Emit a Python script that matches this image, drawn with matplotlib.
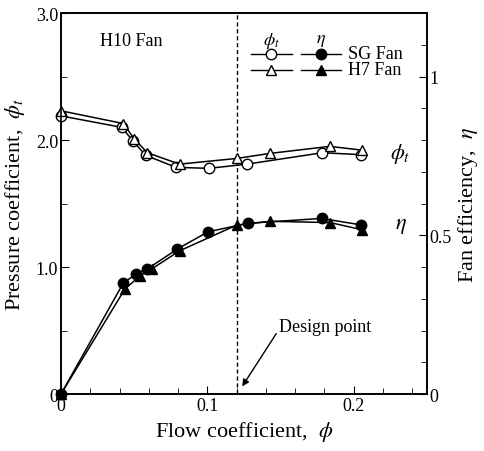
import matplotlib.pyplot as plt
from matplotlib.lines import Line2D
from matplotlib.ticker import MultipleLocator

plt.rcParams['font.family'] = ['Liberation Serif', 'DejaVu Serif']
plt.rcParams['mathtext.fontset'] = 'stix'

# pressure coefficient phi_t
sg_phi = [0, 0.0414, 0.0494, 0.0578, 0.0785, 0.101, 0.127, 0.1786, 0.2048]
sg_psi = [2.19, 2.10, 1.99, 1.88, 1.785, 1.777, 1.81, 1.90, 1.885]
h7_phi = [0, 0.0425, 0.050, 0.059, 0.081, 0.120, 0.143, 0.1836, 0.206]
h7_psi = [2.23, 2.13, 2.01, 1.90, 1.81, 1.855, 1.895, 1.95, 1.92]

# fan efficiency eta
sg_eta_phi = [0, 0.0425, 0.0512, 0.059, 0.0796, 0.1005, 0.128, 0.178, 0.2048]
sg_eta = [0, 0.349, 0.378, 0.394, 0.457, 0.511, 0.538, 0.553, 0.533]
h7_eta_phi = [0, 0.0437, 0.054, 0.062, 0.081, 0.120, 0.143, 0.184, 0.206]
h7_eta = [0, 0.331, 0.372, 0.394, 0.451, 0.532, 0.544, 0.540, 0.517]

design_phi = 0.12

fig = plt.figure(figsize=(4.84, 4.52), dpi=100)
ax = fig.add_axes([0.126, 0.126, 0.756, 0.843])
ax2 = ax.twinx()

ms = 7.5
ax.plot(sg_phi, sg_psi, 'k-', marker='o', mfc='white', mec='k', ms=ms, lw=1.1, clip_on=False, zorder=3)
ax.plot(h7_phi, h7_psi, 'k-', marker='^', mfc='white', mec='k', ms=ms, lw=1.1, clip_on=False, zorder=3)
ax2.plot(sg_eta_phi, sg_eta, 'k-', marker='o', mfc='k', mec='k', ms=ms, lw=1.1, clip_on=False, zorder=3)
ax2.plot(h7_eta_phi, h7_eta, 'k-', marker='^', mfc='k', mec='k', ms=ms, lw=1.1, clip_on=False, zorder=3)

ax.axvline(design_phi, color='k', ls=(0, (3, 2)), lw=1.0)

ax.set_xlim(0, 0.25)
ax.set_ylim(0, 3.0)
ax2.set_ylim(0, 1.2)

ax.set_xticks([0, 0.1, 0.2])
ax.set_xticklabels(['0', '0.1', '0.2'])
ax.xaxis.set_minor_locator(MultipleLocator(0.02))
ax.set_yticks([0, 1.0, 2.0, 3.0])
ax.set_yticklabels(['0', '1.0', '2.0', '3.0'])
ax.yaxis.set_minor_locator(MultipleLocator(0.5))
ax2.set_yticks([0, 0.5, 1.0])
ax2.set_yticklabels(['0', '0.5', '1'])
ax2.yaxis.set_minor_locator(MultipleLocator(0.1))

for a in (ax, ax2):
    a.tick_params(which='both', direction='in', labelsize=13, pad=2)
    a.tick_params(which='major', length=6)
    a.tick_params(which='minor', length=4)
    for s in a.spines.values():
        s.set_linewidth(1.2)

ax.set_xlabel(r'Flow coefficient,  $\phi$', fontsize=16, labelpad=4)
ax.set_ylabel(r'Pressure coefficient,  $\phi_t$', fontsize=16, labelpad=6)
ax2.set_ylabel(r'Fan efficiency,  $\eta$', fontsize=16, labelpad=3)

ax.text(0.048, 2.78, 'H10 Fan', fontsize=13, ha='center', va='center')
ax.text(0.232, 1.9, r'$\phi_t$', fontsize=16, ha='center', va='center')
ax2.text(0.232, 0.53, r'$\eta$', fontsize=16, ha='center', va='center')

ax.annotate('Design point', xy=(0.1238, 0.06), xytext=(0.149, 0.53),
            fontsize=13, ha='left', va='center',
            arrowprops=dict(arrowstyle='-|>', color='k', lw=1.0,
                            shrinkA=0, shrinkB=0, mutation_scale=10,
                            relpos=(0, 0.35)))

# legend drawn by hand
tr = ax.transAxes
ax.text(0.575, 0.93, r'$\phi_t$', fontsize=13, ha='center', va='center', transform=tr)
ax.text(0.71, 0.93, r'$\eta$', fontsize=13, ha='center', va='center', transform=tr)
for yy, mk in [(0.893, 'o'), (0.851, '^')]:
    ax.add_line(Line2D([0.52, 0.63], [yy, yy], color='k', lw=1.0, transform=tr))
    ax.add_line(Line2D([0.575], [yy], marker=mk, mfc='white', mec='k', ms=ms, ls='none', transform=tr))
    ax.add_line(Line2D([0.655, 0.765], [yy, yy], color='k', lw=1.0, transform=tr))
    ax.add_line(Line2D([0.71], [yy], marker=mk, mfc='k', mec='k', ms=ms, ls='none', transform=tr))
ax.text(0.785, 0.893, 'SG Fan', fontsize=13, ha='left', va='center', transform=tr)
ax.text(0.785, 0.851, 'H7 Fan', fontsize=13, ha='left', va='center', transform=tr)

fig.savefig('out.png', dpi=100)
